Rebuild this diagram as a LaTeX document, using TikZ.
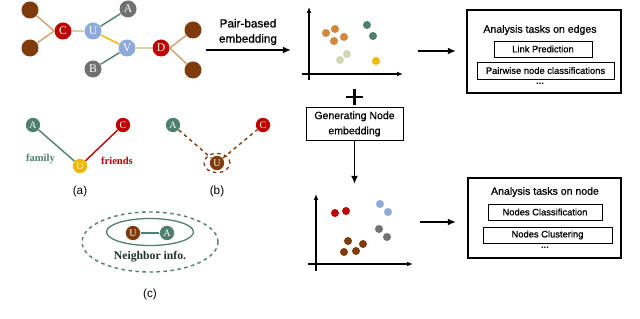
\documentclass[tikz,border=0pt]{standalone}
\usepackage{fontspec}
\setmainfont{Liberation Serif}
\setsansfont{Liberation Sans}
\newfontfamily\medsans{Liberation Sans}[FakeBold=0.7]
\usetikzlibrary{arrows.meta,positioning,calc,shapes.geometric}
\definecolor{nodeBrown}{HTML}{7F3B0C}
\definecolor{nodeRed}{HTML}{C00000}
\definecolor{nodeBlue}{HTML}{8EAADB}
\definecolor{nodeGray}{HTML}{707070}
\definecolor{nodeTeal}{HTML}{4F7F6E}
\definecolor{nodeYellow}{HTML}{F2B800}
\definecolor{edgeTan}{HTML}{D4A06A}
\definecolor{edgePale}{HTML}{DCD2AE}
\definecolor{dotOrange}{HTML}{D4873C}
\definecolor{dotPale}{HTML}{D2D6B4}
\definecolor{infoText}{HTML}{1E3328}

\begin{document}
\begin{tikzpicture}[x=.03cm,y=-.03cm,line width=.65pt,
  vtx/.style={circle,inner sep=0pt,minimum size=.51cm,text=white,font=\rmfamily\fontsize{10}{10}\selectfont},
  pvtx/.style={circle,inner sep=0pt,minimum size=.43cm,text=white,font=\rmfamily\fontsize{8.5}{8.5}\selectfont},
  gedge/.style={line width=1.2pt},
  bigarrow/.style={line width=1.6pt,-{Latex[length=7pt,width=6pt]}},
  axis/.style={line width=1.2pt,-{Latex[length=5pt,width=4pt]}},
  taskbox/.style={draw,line width=1.6pt,inner sep=0pt},
  subtask/.style={draw,line width=.7pt,inner sep=0pt,font=\medsans\fontsize{8}{8}\selectfont},
  tasktitle/.style={font=\medsans\fontsize{9}{9}\selectfont},
  sublabel/.style={font=\sffamily\fontsize{10}{10}\selectfont}]
\useasboundingbox (0,0) rectangle (640,319);

% multi-relational graph
\node[vtx,fill=nodeBrown] (bl1) at (30,10) {};
\node[vtx,fill=nodeBrown] (bl2) at (30,48) {};
\node[vtx,fill=nodeRed] (gc) at (63,31) {C};
\node[vtx,fill=nodeBlue] (gu) at (93,31) {U};
\node[vtx,fill=nodeGray] (ga) at (128,9) {A};
\node[vtx,fill=nodeBlue] (gv) at (127,48) {V};
\node[vtx,fill=nodeGray] (gb) at (93,69) {B};
\node[vtx,fill=nodeRed] (gd) at (161,48) {D};
\node[vtx,fill=nodeBrown] (br1) at (193,30) {};
\node[vtx,fill=nodeBrown] (br2) at (193,70) {};
\draw[gedge,edgeTan] (bl1) -- (gc.west) (bl2) -- (gc.west);
\draw[gedge,edgePale] (gc) -- (gu);
\draw[gedge,nodeTeal] (gu) -- (ga);
\draw[gedge,nodeYellow] (gu) -- (gv);
\draw[gedge,nodeTeal] (gv) -- (gb);
\draw[gedge,edgePale] (gv) -- (gd);
\draw[gedge,edgeTan] (gd.east) -- (br1) (gd.east) -- (br2);

% pair-based embedding
\node[align=center,font=\medsans\fontsize{10}{13}\selectfont] (pairlab) at (248,32) {Pair-based\\embedding};
\coordinate (pairL) at (206,50);
\coordinate (pairR) at (291,50);
\draw[bigarrow] (pairL) -- (pairR);

% edge embedding plot
\coordinate (o1) at (309,74);
\draw[axis] ($(o1)+(0,6)$) -- ($(o1)+(0,-67)$);
\draw[axis] ($(o1)+(-7,0)$) -- ($(o1)+(94,0)$);
\foreach \px/\py in {326/33,335/29,334/41,344/37}
  \fill[dotOrange] (\px,\py) circle (.12cm);
\foreach \px/\py in {367/25,373/36}
  \fill[nodeTeal] (\px,\py) circle (.12cm);
\foreach \px/\py in {340/60,347/54}
  \fill[dotPale] (\px,\py) circle (.12cm);
\fill[nodeYellow] (376,61) circle (.12cm);

% plus sign
\draw[line width=1.8pt] (346,97) -- (363,97) (354.5,89) -- (354.5,105);

% node embedding
\node[draw,line width=.7pt,minimum width=2.91cm,minimum height=.96cm,align=center,
  font=\medsans\fontsize{9}{13}\selectfont] (gen) at (354.5,124) {Generating Node\\embedding};
\coordinate (genEnd) at (354.5,184);
\draw[bigarrow] (gen.south) -- (genEnd);

% node embedding plot
\coordinate (o2) at (316,264);
\draw[axis] ($(o2)+(0,7)$) -- ($(o2)+(0,-70)$);
\draw[axis] ($(o2)+(-8,0)$) -- ($(o2)+(97,0)$);
\foreach \px/\py in {335/213,346/211}
  \fill[nodeRed] (\px,\py) circle (.12cm);
\foreach \px/\py in {380/204,388/212}
  \fill[nodeBlue] (\px,\py) circle (.12cm);
\foreach \px/\py in {379/229,387/237}
  \fill[nodeGray] (\px,\py) circle (.12cm);
\foreach \px/\py in {348/241,363/244,344/252,356/251}
  \fill[nodeBrown] (\px,\py) circle (.12cm);

% analysis tasks on edges
\node[taskbox,minimum width=4.6cm,minimum height=2.49cm] (edgeTasks) at (544,51.5) {};
\node[tasktitle] (edgeTitle) at (540,30) {Analysis tasks on edges};
\node[subtask,minimum width=2.94cm,minimum height=.48cm] (linkPred) at (543,49) {Link Prediction};
\node[subtask,minimum width=4.11cm,minimum height=.51cm] (pairCls) at (545.5,70.5) {Pairwise node classifications};
\node[font=\sffamily\bfseries\fontsize{8}{8}\selectfont] (edgeDots) at (540,84) {...};
\coordinate (edgeArrS) at (418,51);
\coordinate (edgeArrE) at (456,51);
\draw[bigarrow] (edgeArrS) -- (edgeArrE);

% analysis tasks on node
\node[taskbox,minimum width=4.59cm,minimum height=2.4cm] (nodeTasks) at (544.5,218) {};
\node[tasktitle] (nodeTitle) at (545,192) {Analysis tasks on node};
\node[subtask,minimum width=3.42cm,minimum height=.48cm] (nodeCls) at (545,212) {Nodes Classification};
\node[subtask,minimum width=3.87cm,minimum height=.48cm] (nodeClu) at (547.5,235) {Nodes Clustering};
\node[font=\sffamily\bfseries\fontsize{8}{8}\selectfont] (nodeDots) at (545,248) {...};
\coordinate (nodeArrS) at (420,222);
\coordinate (nodeArrE) at (456,222);
\draw[bigarrow] (nodeArrS) -- (nodeArrE);

% (a) node with two roles
\node[pvtx,fill=nodeTeal] (aA) at (33,125) {A};
\node[pvtx,fill=nodeYellow] (aU) at (80,166) {U};
\node[pvtx,fill=nodeRed] (aC) at (123,125) {C};
\draw[gedge,nodeTeal] (aA) -- (aU);
\draw[gedge,nodeRed] (aU) -- (aC);
\node[nodeTeal,font=\rmfamily\bfseries\fontsize{9}{9}\selectfont] (famLab) at (40.5,159) {family};
\node[nodeRed,font=\rmfamily\bfseries\fontsize{9}{9}\selectfont] (friLab) at (117,161) {friends};
\node[sublabel] (capA) at (80,191) {(a)};

% (b) condensed node view
\node[pvtx,fill=nodeTeal] (bA) at (173,125) {A};
\node[pvtx,fill=nodeBrown] (bU) at (217,163) {U};
\node[pvtx,fill=nodeRed] (bC) at (263,125) {C};
\node[ellipse,draw=nodeBrown,dashed,line width=1.1pt,minimum width=.78cm,minimum height=.58cm] (bRing) at (217,163) {};
\draw[gedge,nodeBrown,dashed] (bA) -- (bU);
\draw[gedge,nodeBrown,dashed] (bU) -- (bC);
\node[sublabel] (capB) at (217,191) {(b)};

% (c) neighbor information
\node[ellipse,draw=nodeTeal,dashed,line width=1.2pt,minimum width=4.08cm,minimum height=1.8cm] (outerRing) at (150,242) {};
\node[ellipse,draw=nodeTeal,line width=1.1pt,minimum width=2.61cm,minimum height=.81cm] (innerRing) at (150,232) {};
\node[pvtx,fill=nodeBrown] (cU) at (133,233) {U};
\node[pvtx,fill=nodeTeal] (cA) at (167,233) {A};
\draw[gedge,nodeTeal] (cU) -- (cA);
\node[infoText,font=\rmfamily\bfseries\fontsize{10}{10}\selectfont] (infoLab) at (150,257) {Neighbor info.};
\node[sublabel] (capC) at (150,294) {(c)};
\end{tikzpicture}
\end{document}
